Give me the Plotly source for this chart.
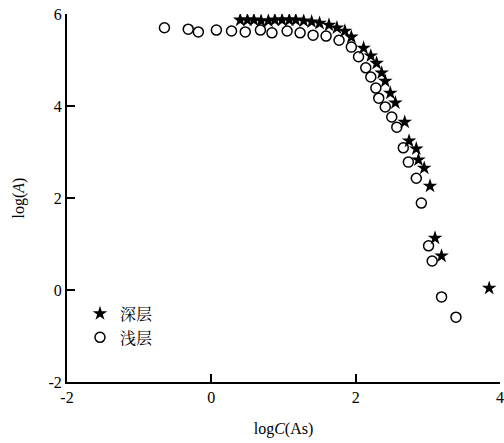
import plotly.graph_objects as go

deep_x = [0.40, 0.50, 0.59, 0.69, 0.79, 0.88, 0.98, 1.08, 1.17, 1.28, 1.39, 1.50, 1.63, 1.74, 1.85, 1.94,
          2.11, 2.21, 2.29, 2.36, 2.41, 2.48, 2.55, 2.68, 2.74, 2.84, 2.87, 2.95, 3.03, 3.10, 3.19, 3.85]
deep_y = [5.87, 5.87, 5.87, 5.85, 5.85, 5.87, 5.87, 5.87, 5.87, 5.85, 5.83, 5.80, 5.76, 5.70, 5.63, 5.50,
          5.26, 5.09, 4.93, 4.72, 4.54, 4.28, 4.07, 3.65, 3.24, 3.07, 2.83, 2.65, 2.26, 1.13, 0.74, 0.04]

shallow_x = [-0.65, -0.32, -0.18, 0.07, 0.28, 0.47, 0.68, 0.84, 1.05, 1.23, 1.41, 1.59, 1.77, 1.94, 2.04,
             2.14, 2.21, 2.28, 2.32, 2.41, 2.50, 2.57, 2.66, 2.73, 2.84, 2.91, 3.01, 3.06, 3.19, 3.39]
shallow_y = [5.70, 5.67, 5.61, 5.65, 5.63, 5.61, 5.65, 5.59, 5.63, 5.59, 5.54, 5.52, 5.43, 5.28, 5.07,
             4.83, 4.63, 4.39, 4.17, 3.98, 3.76, 3.54, 3.09, 2.78, 2.43, 1.89, 0.96, 0.63, -0.15, -0.59]

x_ticks = [-2, 0, 2, 4]
y_ticks = [-2, 0, 2, 4, 6]

serif = "Liberation Serif, Times New Roman, serif"

fig = go.Figure()
fig.add_trace(go.Scatter(x=deep_x, y=deep_y, mode="markers", name="深层",
                         marker=dict(symbol="star", size=11, color="black",
                                     line=dict(width=0))))
fig.add_trace(go.Scatter(x=shallow_x, y=shallow_y, mode="markers", name="浅层",
                         marker=dict(symbol="circle-open", size=10, color="black",
                                     line=dict(width=1.5, color="black"))))

axis_common = dict(showgrid=False, zeroline=False, showline=True, linecolor="black",
                   linewidth=2, ticks="inside", ticklen=8, tickwidth=2, tickcolor="black",
                   tickfont=dict(family=serif, size=16, color="black"), mirror=False,
                   automargin=False, ticklabeloverflow="allow")

fig.update_xaxes(range=[-2, 4], tickvals=x_ticks, ticktext=[str(v) for v in x_ticks],
                 title=dict(text="log<i>C</i>(As)", font=dict(family=serif, size=16, color="black"),
                            standoff=18),
                 **axis_common)
fig.update_yaxes(range=[-2, 6], tickvals=y_ticks, ticktext=[str(v) for v in y_ticks],
                 title=dict(text="log(<i>A</i>)", font=dict(family=serif, size=16, color="black"),
                            standoff=20),
                 **axis_common)

fig.update_layout(
    width=504, height=443,
    margin=dict(l=67, r=4, t=14, b=61),
    plot_bgcolor="white", paper_bgcolor="white",
    showlegend=True,
    legend=dict(x=0.03, y=0.232, xanchor="left", yanchor="top",
                bgcolor="rgba(0,0,0,0)",
                font=dict(family="Noto Serif CJK SC, Noto Sans CJK SC", size=16, color="black")),
)

fig.write_html("out.html", config={"displayModeBar": False},
               post_script="document.body.style.margin='0';document.body.style.overflow='hidden';")
